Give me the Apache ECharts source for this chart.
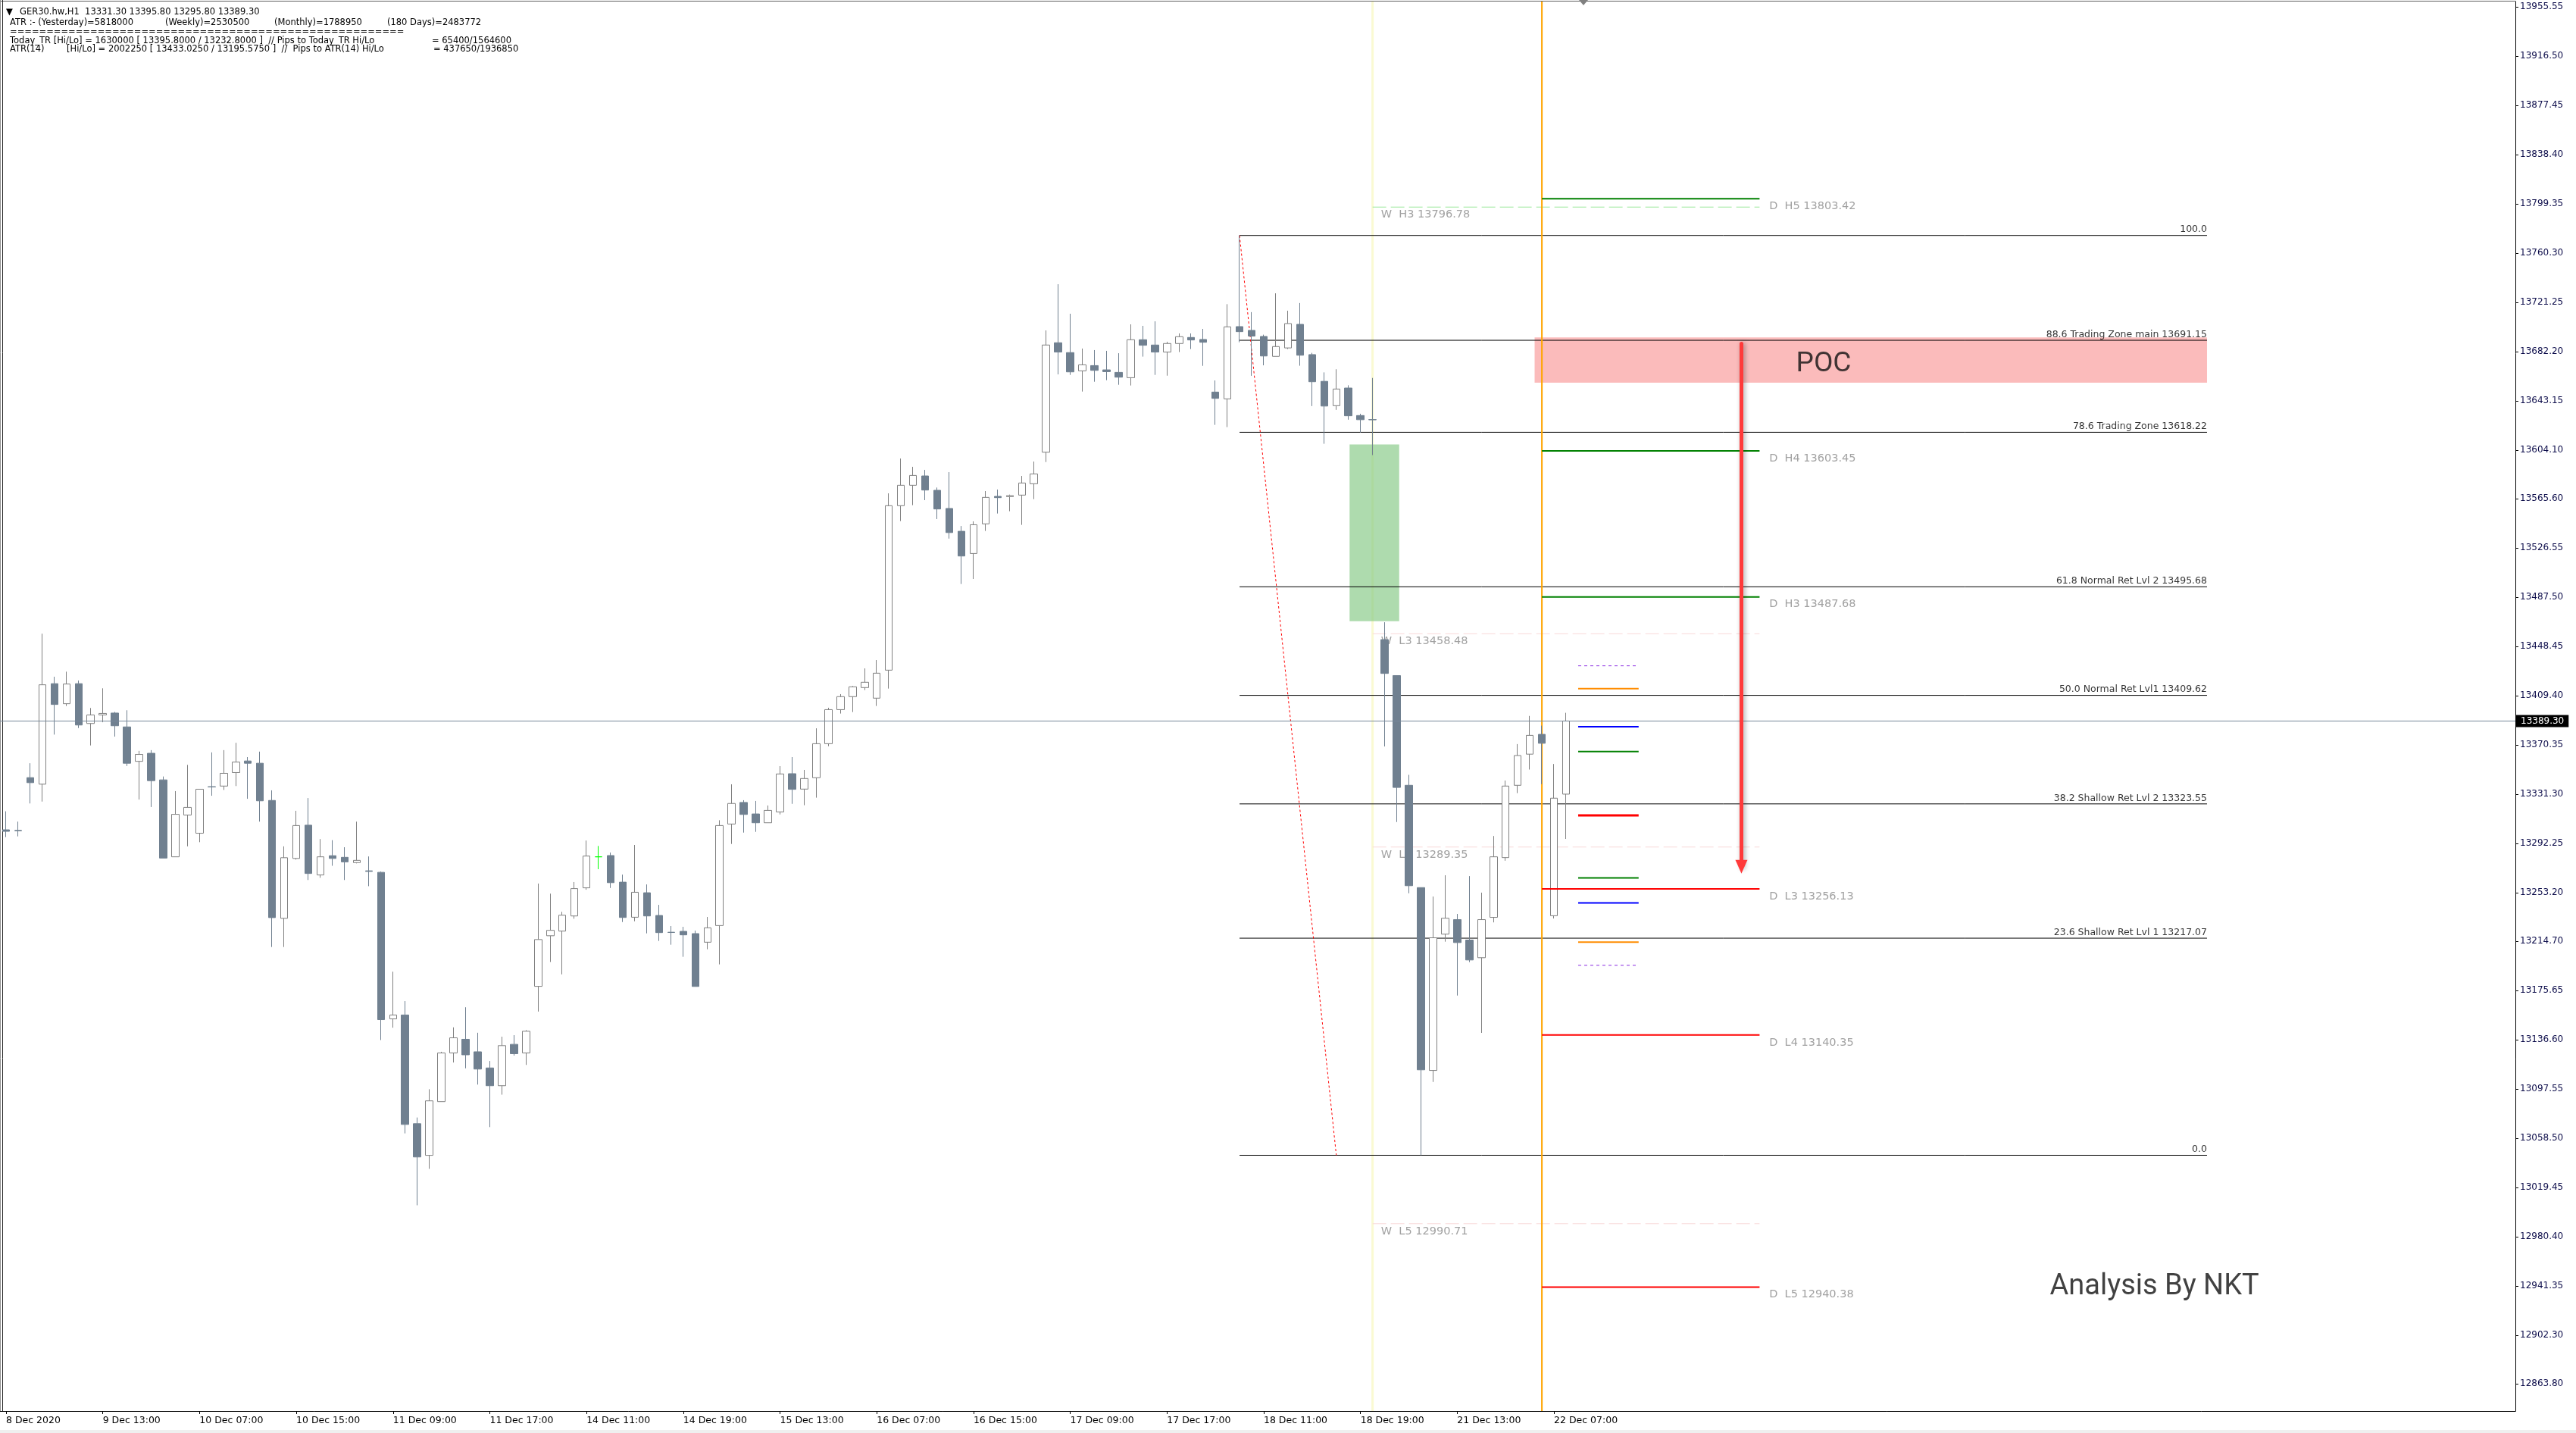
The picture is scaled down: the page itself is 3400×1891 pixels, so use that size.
<!DOCTYPE html>
<html><head><meta charset="utf-8">
<script src="https://cdn.jsdelivr.net/npm/echarts@6/dist/echarts.min.js"></script>
<style>html,body{margin:0;padding:0;background:#fff;overflow:hidden}#c{width:3400px;height:1891px}</style>
</head><body><div id="c"></div>
<script>
// ---------- DATA ----------
const opens = [13303.0,13302.5,13344.4,13339.2,13418.9,13403.0,13418.9,13387.3,13394.1,13395.6,
13384.6,13357.3,13363.7,13342.6,13281.6,13314.7,13300.3,13337.2,13337.7,13348.4,
13357.6,13355.8,13326.3,13232.8,13280.3,13306.7,13267.2,13282.5,13281.2,13277.0,
13270.5,13269.3,13153.1,13156.2,13070.0,13044.9,13087.5,13126.1,13136.9,13127.0,
13114.2,13100.1,13132.9,13126.1,13178.9,13219.0,13222.7,13234.7,13257.0,13281.6,
13282.6,13261.5,13233.7,13253.1,13235.1,13221.8,13222.5,13220.7,13213.9,13227.1,
13307.6,13324.7,13315.6,13308.6,13317.2,13347.5,13335.3,13344.3,13371.3,13398.3,
13408.6,13415.8,13407.4,13429.6,13560.0,13576.2,13583.6,13572.2,13557.8,13539.7,
13522.1,13545.6,13567.4,13567.2,13568.4,13577.4,13602.4,13689.2,13681.4,13666.9,
13671.1,13667.7,13665.7,13661.5,13691.6,13687.4,13681.8,13688.6,13693.4,13691.8,
13650.1,13644.7,13702.0,13699.0,13694.2,13678.4,13685.1,13703.8,13679.8,13658.6,
13639.3,13653.3,13631.5,13628.3,13453.8,13425.3,13338.3,13257.2,13112.2,13220.3,
13231.8,13215.6,13201.6,13233.6,13281.0,13338.3,13363.0,13378.7,13234.9,13331.3];
const highs = [13317.7,13309.5,13355.8,13458.5,13424.4,13428.4,13421.4,13399.6,13415.2,13396.5,
13397.8,13365.6,13366.2,13345.3,13333.7,13354.5,13335.2,13364.4,13366.2,13372.0,
13360.7,13365.0,13334.3,13289.9,13318.1,13328.2,13295.7,13294.8,13289.2,13309.5,
13281.9,13269.9,13190.5,13167.2,13074.9,13097.3,13127.0,13146.4,13162.3,13142.1,
13119.7,13139.0,13140.2,13144.2,13260.4,13252.4,13238.0,13261.6,13294.5,13290.2,
13285.0,13267.5,13291.0,13259.7,13243.5,13226.7,13226.1,13223.1,13233.9,13310.6,
13339.1,13326.5,13325.9,13322.3,13353.5,13360.7,13350.5,13383.5,13399.8,13410.6,
13417.0,13431.0,13437.6,13569.8,13597.4,13590.8,13588.4,13574.4,13586.6,13543.9,
13547.6,13571.6,13572.8,13568.8,13583.6,13595.0,13699.0,13735.6,13712.2,13684.6,
13683.4,13682.8,13680.9,13703.8,13702.6,13706.2,13690.0,13696.6,13696.6,13700.2,
13659.3,13719.8,13774.3,13713.5,13695.6,13728.4,13714.6,13720.7,13681.2,13665.7,
13668.2,13655.5,13632.9,13661.3,13467.6,13425.3,13346.6,13257.2,13250.1,13267.0,
13236.3,13266.3,13253.2,13298.1,13342.1,13371.0,13393.3,13385.6,13355.2,13395.8];
const lows = [13297.2,13297.8,13323.9,13325.4,13378.5,13401.2,13383.7,13369.9,13388.3,13376.9,
13353.6,13327.0,13321.1,13280.6,13281.6,13289.9,13293.2,13330.0,13334.6,13337.7,
13327.6,13309.5,13210.1,13210.1,13279.4,13263.2,13265.0,13274.5,13263.2,13276.4,
13258.3,13136.3,13146.1,13062.3,13005.3,13034.2,13087.5,13118.5,13113.9,13101.0,
13067.3,13093.0,13124.0,13116.6,13158.9,13198.2,13188.4,13232.5,13255.5,13271.8,
13256.9,13229.9,13230.5,13220.9,13214.9,13211.9,13202.3,13178.8,13208.3,13196.3,
13291.8,13300.8,13301.4,13308.6,13315.2,13323.6,13322.5,13328.5,13369.3,13395.2,
13396.4,13413.8,13401.2,13415.0,13547.8,13560.4,13564.4,13549.4,13533.9,13497.9,
13501.9,13540.0,13553.8,13555.6,13544.8,13565.2,13594.6,13664.1,13663.7,13650.5,
13658.3,13659.5,13655.9,13655.3,13678.2,13663.7,13663.1,13681.8,13684.2,13670.9,
13624.1,13622.3,13689.6,13663.0,13671.3,13678.4,13684.2,13671.0,13639.0,13609.1,
13636.0,13628.2,13618.0,13600.1,13369.1,13309.2,13252.7,13045.0,13103.1,13214.3,
13171.6,13198.1,13142.0,13229.6,13278.5,13332.1,13350.8,13339.2,13232.7,13295.8];
const closes = [13301.8,13302.3,13340.4,13418.0,13402.4,13418.6,13386.1,13394.1,13395.3,13385.5,
13355.8,13362.8,13342.0,13280.6,13315.3,13320.8,13335.2,13337.0,13347.8,13356.7,
13355.8,13326.0,13233.4,13280.9,13306.4,13268.4,13281.6,13280.3,13277.6,13278.8,
13270.0,13152.5,13156.2,13069.4,13043.6,13088.1,13126.1,13138.1,13124.6,13113.3,
13100.1,13131.9,13125.5,13143.3,13216.0,13223.3,13235.3,13256.4,13282.2,13281.6,
13261.1,13233.5,13253.5,13234.7,13221.5,13221.6,13219.7,13178.8,13225.3,13306.4,
13323.9,13315.2,13308.6,13318.4,13347.3,13335.1,13343.7,13371.3,13398.3,13408.6,
13416.4,13420.0,13427.2,13560.0,13576.2,13584.0,13572.4,13557.4,13538.7,13520.1,
13544.9,13566.6,13566.4,13568.0,13578.0,13585.2,13687.4,13681.8,13666.1,13671.7,
13667.3,13666.3,13661.9,13691.6,13687.2,13681.8,13688.6,13694.0,13691.4,13689.6,
13645.1,13701.8,13698.0,13694.5,13678.7,13686.2,13704.4,13679.3,13658.3,13639.0,
13652.5,13631.3,13628.2,13628.1,13427.0,13336.6,13258.7,13112.7,13217.4,13232.9,
13213.6,13199.8,13231.8,13281.6,13337.7,13361.9,13377.9,13371.6,13328.1,13389.3];

const xTickIdx = [0,8,16,24,32,40,48,56,64,72,80,88,96,104,112,120,128];
const xTickText = ['8 Dec 2020','9 Dec 13:00','10 Dec 07:00','10 Dec 15:00','11 Dec 09:00','11 Dec 17:00','14 Dec 11:00','14 Dec 19:00','15 Dec 13:00','16 Dec 07:00','16 Dec 15:00','17 Dec 09:00','17 Dec 17:00','18 Dec 11:00','18 Dec 19:00','21 Dec 13:00','22 Dec 07:00'];
const yTickLabels = [13955.55,13916.50,13877.45,13838.40,13799.35,13760.30,13721.25,13682.20,13643.15,13604.10,13565.60,13526.55,13487.50,13448.45,13409.40,13370.35,13331.30,13292.25,13253.20,13214.70,13175.65,13136.60,13097.55,13058.50,13019.45,12980.40,12941.35,12902.30,12863.80];

const currentPrice = 13389.30;
const fibValues = [13774.28,13691.15,13618.22,13495.68,13409.62,13323.55,13217.07,13044.96];
const fibTexts = ['100.0','88.6 Trading Zone main 13691.15','78.6 Trading Zone 13618.22','61.8 Normal Ret Lvl 2 13495.68','50.0 Normal Ret Lvl1 13409.62','38.2 Shallow Ret Lvl 2 13323.55','23.6 Shallow Ret Lvl 1 13217.07','0.0'];
const dailyNames = ['D  H5','D  H4','D  H3','D  L3','D  L4','D  L5'];
const dailyValues = [13803.42,13603.45,13487.68,13256.13,13140.35,12940.38];
const weeklyNames = ['W  H3','W  L3','W  L4','W  L5'];
const weeklyValues = [13796.78,13458.48,13289.35,12990.71];
const atrLevels = [13433.03,13195.58];
const orangeLevels = [13414.9,13214.0];
const blueLevels = [13384.8,13245.1];
const greenLevels = [13365.0,13264.9];
const redLevels = [13314.4];
const pocBand = [13657.5,13693.5];
const greenZone = [13468.4,13608.5];
const arrowLevels = [13688.5,13268.7];
const trendFrom = 13774.28, trendTo = 13044.96;

// ---------- CHART ----------
const N = 208;
const categories = Array.from({length:N},(_,i)=>String(i));
const tickMap = {}; xTickIdx.forEach((k,j)=>tickMap[k]=xTickText[j]);
const YMIN = 12842.17, YMAX = 13959.76;

const candleData = opens.map((o,i)=>{
  const item = {value:[o, closes[i], lows[i], highs[i]]};
  if (o === closes[i]) item.itemStyle = {color:'#00ff00',color0:'#00ff00',borderColor:'#00ff00',borderColor0:'#00ff00'};
  return item;
});

function hseg(x0,x1,y,color,width,type,z){
  return {type:'line',xAxisIndex:1,yAxisIndex:0,data:[[x0,y],[x1,y]],symbol:'none',showSymbol:false,silent:true,
    lineStyle:{color:color,width:width,type:type||'solid'},z:z||2,animation:false};
}
function vline(x,color,width,z){
  return {type:'line',xAxisIndex:1,yAxisIndex:0,data:[[x,YMAX],[x,YMIN]],symbol:'none',showSymbol:false,silent:true,
    lineStyle:{color:color,width:width},z:z,animation:false};
}
function labels(items,z){
  return {type:'scatter',xAxisIndex:1,yAxisIndex:0,symbolSize:0,silent:true,z:z,animation:false,
    data:items.map(it=>({value:[it.x,it.y],text:it.text,label:it.label})),
    label:{show:true,formatter:p=>p.data.text}};
}

const series = [];
series.push(vline(113,'#FAFAD2',3,0));
series.push({type:'line',xAxisIndex:1,yAxisIndex:0,data:[[0,currentPrice]],symbol:'none',showSymbol:false,z:1,silent:true,animation:false,
  markLine:{silent:true,symbol:'none',animation:false,data:[{yAxis:currentPrice}],
    lineStyle:{color:'#778899',width:1,type:'solid'},
    label:{show:true,position:'end',distance:1,formatter:()=>currentPrice.toFixed(2),backgroundColor:'#000',color:'#fff',
      fontFamily:'DejaVu Sans',fontSize:12,padding:[2,6,2,6]}}});
fibValues.forEach(v=>series.push(hseg(102,182,v,'#000',1,'solid',2)));
weeklyValues.forEach((v,i)=>series.push(hseg(113,145,v,i===0?'#98E898':'#F9D9D9',1,[18,6],2)));
series.push({type:'line',xAxisIndex:1,yAxisIndex:0,data:[[102,trendFrom],[110,trendTo]],symbol:'none',silent:true,z:2,animation:false,
  lineStyle:{color:'#FF0000',width:1,type:[3,3]}});
series.push(vline(127,'#FFA500',2,2));
series.push({type:'candlestick',xAxisIndex:0,yAxisIndex:0,data:candleData,barWidth:10,z:3,silent:true,animation:false,
  itemStyle:{color:'#ffffff',color0:'#708090',borderColor:'#808080',borderColor0:'#708090',borderWidth:1}});
dailyValues.forEach((v,i)=>series.push(hseg(127,145,v,i<3?'#008000':'#FF0000',2,'solid',4)));
atrLevels.forEach(v=>series.push(hseg(130,135,v,'#8A2BE2',1,[4,4],4)));
orangeLevels.forEach(v=>series.push(hseg(130,135,v,'#FF8C00',2,'solid',4)));
blueLevels.forEach(v=>series.push(hseg(130,135,v,'#0000FF',2,'solid',4)));
greenLevels.forEach(v=>series.push(hseg(130,135,v,'#008000',2,'solid',4)));
redLevels.forEach(v=>series.push(hseg(130,135,v,'#FF0000',3,'solid',4)));
series.push({type:'line',xAxisIndex:1,yAxisIndex:0,data:[[0,YMIN]],symbol:'none',showSymbol:false,silent:true,z:5,animation:false,
  markArea:{silent:true,animation:false,data:[
    [{coord:[111.1,greenZone[1]],itemStyle:{color:'rgba(130,200,130,0.65)'}},{coord:[115.2,greenZone[0]]}],
    [{coord:[126.4,pocBand[1]],itemStyle:{color:'rgba(248,120,120,0.5)'}},{coord:[182,pocBand[0]]}]
  ]}});
series.push({type:'line',xAxisIndex:1,yAxisIndex:0,data:[[0,YMIN]],symbol:'none',showSymbol:false,silent:true,z:6,animation:false,
  markLine:{silent:true,animation:false,symbol:['none','triangle'],symbolSize:[16,18],
    lineStyle:{color:'#FF3A3A',width:5,type:'solid',cap:'round',shadowBlur:6,shadowColor:'rgba(0,0,0,0.35)',shadowOffsetX:2,shadowOffsetY:1},
    label:{show:false},
    data:[[{coord:[143.5,arrowLevels[0]]},{coord:[143.5,arrowLevels[1]+5]}]]}});
series.push(labels(weeklyNames.map((n,i)=>({x:113.7,y:weeklyValues[i],text:n+' '+weeklyValues[i].toFixed(2),
  label:{position:[0,0],align:'left',verticalAlign:'middle',offset:[0,10],color:'#8a8a8a',fontFamily:'DejaVu Sans',fontSize:14.5}})),1));
series.push(labels(dailyNames.map((n,i)=>({x:145.8,y:dailyValues[i],text:n+' '+dailyValues[i].toFixed(2),
  label:{position:[0,0],align:'left',verticalAlign:'middle',offset:[0,10],color:'#8a8a8a',fontFamily:'DejaVu Sans',fontSize:14.5}})),6));
series.push(labels(fibTexts.map((t,i)=>({x:182,y:fibValues[i],text:t,
  label:{position:[0,0],align:'right',verticalAlign:'bottom',offset:[0,-1],color:'#000',fontFamily:'DejaVu Sans',fontSize:12.5}})),6));
series.push(labels([
  {x:150.3,y:13671.9,text:'POC',label:{position:[0,0],align:'center',verticalAlign:'middle',color:'#111',fontFamily:'Roboto',fontSize:37}},
  {x:169,y:12940.7,text:'Analysis By NKT',label:{position:[0,0],align:'left',verticalAlign:'middle',color:'#111',fontFamily:'Roboto',fontSize:38}}
],7));

const hdrFont = '11.5px "DejaVu Sans"';
function ht(x,y,t){return {type:'text',x:x,y:y,silent:true,style:{text:t,font:hdrFont,fill:'#000',verticalAlign:'middle'}};}

const option = {
  animation:false,
  backgroundColor:'#ffffff',
  grid:{left:-3,right:80,top:2,bottom:29,show:false},
  xAxis:[
    {type:'category',data:categories,boundaryGap:true,
      axisLine:{show:true,onZero:false,lineStyle:{color:'#000',width:1}},
      axisTick:{show:true,alignWithLabel:true,length:4,interval:(i)=>tickMap[i]!==undefined,lineStyle:{color:'#000'}},
      axisLabel:{show:true,interval:(i)=>tickMap[i]!==undefined,formatter:(v,i)=>tickMap[i]||'',align:'left',margin:6,
        fontFamily:'DejaVu Sans',fontSize:12.5,color:'#000'},
      splitLine:{show:false}},
    {type:'value',min:-0.5,max:N-0.5,show:false,splitLine:{show:false}}
  ],
  yAxis:[{type:'value',position:'right',min:YMIN,max:YMAX,scale:true,
    axisLine:{show:true,onZero:false,lineStyle:{color:'#000',width:1}},
    axisTick:{show:true,length:4,customValues:yTickLabels,lineStyle:{color:'#000'}},
    axisLabel:{show:true,customValues:yTickLabels,formatter:v=>Number(v).toFixed(2),margin:6,
      fontFamily:'DejaVu Sans',fontSize:12,color:'#0c0c4a',showMinLabel:true,showMaxLabel:true},
    splitLine:{show:false}}],
  series:series,
  graphic:[
    {type:'rect',silent:true,shape:{x:0,y:1887,width:3400,height:4},style:{fill:'#efefef'}},
    {type:'line',silent:true,shape:{x1:0,y1:1.5,x2:3320,y2:1.5},style:{stroke:'#606060',lineWidth:1}},
    {type:'line',silent:true,shape:{x1:0.5,y1:0,x2:0.5,y2:1862},style:{stroke:'#909090',lineWidth:1}},
    {type:'line',silent:true,shape:{x1:3.5,y1:0,x2:3.5,y2:1862},style:{stroke:'#202020',lineWidth:1}},
    {type:'polygon',silent:true,shape:{points:[[2084,0],[2096,0],[2090,7]]},style:{fill:'#808080'}},
    ht(8,16,'\u25BC'),
    ht(26,16,'GER30.hw,H1  13331.30 13395.80 13295.80 13389.30'),
    ht(13,30,'ATR :- (Yesterday)=5818000'),
    ht(218,30,'(Weekly)=2530500'),
    ht(362,30,'(Monthly)=1788950'),
    ht(511,30,'(180 Days)=2483772'),
    ht(13,42,'======================================================'),
    ht(13,54,'Today_TR [Hi/Lo] = 1630000 [ 13395.8000 / 13232.8000 ]  // Pips to Today_TR Hi/Lo'),
    ht(570,54,'= 65400/1564600'),
    ht(13,65,'ATR(14)'),
    ht(88,65,'[Hi/Lo] = 2002250 [ 13433.0250 / 13195.5750 ]  //  Pips to ATR(14) Hi/Lo'),
    ht(572,65,'= 437650/1936850')
  ]
};
const chart = echarts.init(document.getElementById('c'),null,{renderer:'canvas'});
chart.setOption(option);
</script></body></html>
